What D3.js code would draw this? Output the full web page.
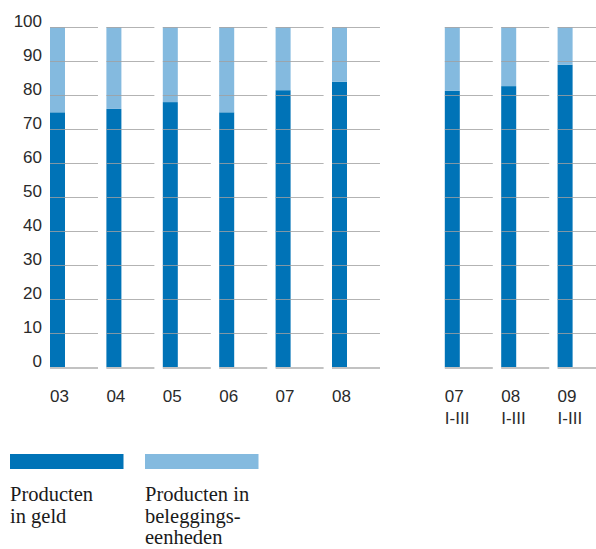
<!DOCTYPE html>
<html>
<head>
<meta charset="utf-8">
<script src="https://cdn.jsdelivr.net/npm/d3@7"></script>
<style>
  html, body { margin: 0; padding: 0; background: #fff; }
  svg { display: block; }
</style>
</head>
<body>
<svg id="chart" width="596" height="549"></svg>
<script>
// Annual shares (%) of products in money vs. unit-linked products
const years = ['03', '04', '05', '06', '07', '08'];
const geldYears = [75, 76, 78, 75, 81.5, 84];

// Year-to-date shares, first three quarters
const periods = ['07', '08', '09'];
const periodSub = 'I-III';
const geldPeriods = [81.3, 82.7, 89];

const yTicks = [0, 10, 20, 30, 40, 50, 60, 70, 80, 90, 100];
const seriesNames = [['Producten', 'in geld'], ['Producten in', 'beleggings-', 'eenheden']];
const colors = ['#0073b7', '#84badf'];

const rows = [
  ...years.map((l, i) => ({ key: 'y' + l, label: l, sub: null, geld: geldYears[i] })),
  ...periods.map((l, i) => ({ key: 'p' + l, label: l, sub: periodSub, geld: geldPeriods[i] }))
];
rows.forEach(r => { r.beleg = 100 - r.geld; });

// one empty slot separates the annual bars from the year-to-date bars
const keys = [...rows.slice(0, years.length).map(r => r.key), 'gap', ...rows.slice(years.length).map(r => r.key)];

const svg = d3.select('#chart');

const x = d3.scaleBand()
  .domain(keys)
  .range([50, 605.6])
  .paddingInner(0.149)
  .paddingOuter(0);

const y = d3.scaleLinear().domain([0, 100]).range([367.3, 27.3]);

const barW = 15;

const stack = d3.stack().keys(['geld', 'beleg']);
const layers = stack(rows);

// bars
svg.append('g').selectAll('g')
  .data(layers)
  .join('g')
  .attr('fill', (d, i) => colors[i])
  .selectAll('rect')
  .data(d => d)
  .join('rect')
  .attr('x', d => x(d.data.key))
  .attr('width', barW)
  .attr('y', d => y(d[1]))
  .attr('height', d => y(d[0]) - y(d[1]));

// grid segments per group, drawn over the bars
const grid = svg.append('g');
rows.forEach(r => {
  grid.selectAll(null)
    .data(yTicks.filter(t => t > 0))
    .join('line')
    .attr('x1', x(r.key))
    .attr('x2', x(r.key) + x.bandwidth())
    .attr('y1', d => Math.round(y(d)) + 0.5)
    .attr('y2', d => Math.round(y(d)) + 0.5)
    .attr('stroke', '#a0a0a0')
    .attr('stroke-opacity', 0.8)
    .attr('stroke-width', 1);
  grid.append('rect')
    .attr('x', x(r.key))
    .attr('width', x.bandwidth())
    .attr('y', Math.round(y(0)))
    .attr('height', 2)
    .attr('fill', '#c2c2c2');
});

// y axis labels
const yAxis = d3.axisLeft(y).tickValues(yTicks).tickSize(0).tickPadding(0);
const ya = svg.append('g').attr('transform', 'translate(42,0)').call(yAxis);
ya.select('.domain').remove();
ya.selectAll('text')
  .attr('dy', null)
  .attr('y', -0.5)
  .attr('x', 0)
  .attr('text-anchor', 'end')
  .attr('fill', '#2a2a2a')
  .style('font-family', '"Liberation Sans", Arial, sans-serif')
  .style('font-size', '17px');

// x labels
const xl = svg.append('g')
  .style('font-family', '"Liberation Sans", Arial, sans-serif')
  .style('font-size', '17px')
  .attr('fill', '#2a2a2a');
rows.forEach(r => {
  const t = xl.append('text')
    .attr('x', x(r.key))
    .attr('y', 401.5);
  t.append('tspan').attr('x', x(r.key)).text(r.label);
  if (r.sub) t.append('tspan').attr('x', x(r.key)).attr('dy', 22.5).text(r.sub);
});

// legend
const legX = [10, 145];
const leg = svg.append('g');
seriesNames.forEach((lines, i) => {
  leg.append('rect')
    .attr('x', legX[i]).attr('y', 454)
    .attr('width', 113.5).attr('height', 15)
    .attr('fill', colors[i]);
  const t = leg.append('text')
    .attr('x', legX[i])
    .attr('y', 501)
    .attr('fill', '#1a1a1a')
    .style('font-family', '"Liberation Serif", "Times New Roman", serif')
    .style('font-size', '20.5px');
  lines.forEach((s, j) => {
    t.append('tspan').attr('x', legX[i]).attr('dy', j === 0 ? 0 : 21.6).text(s);
  });
});
</script>
</body>
</html>
